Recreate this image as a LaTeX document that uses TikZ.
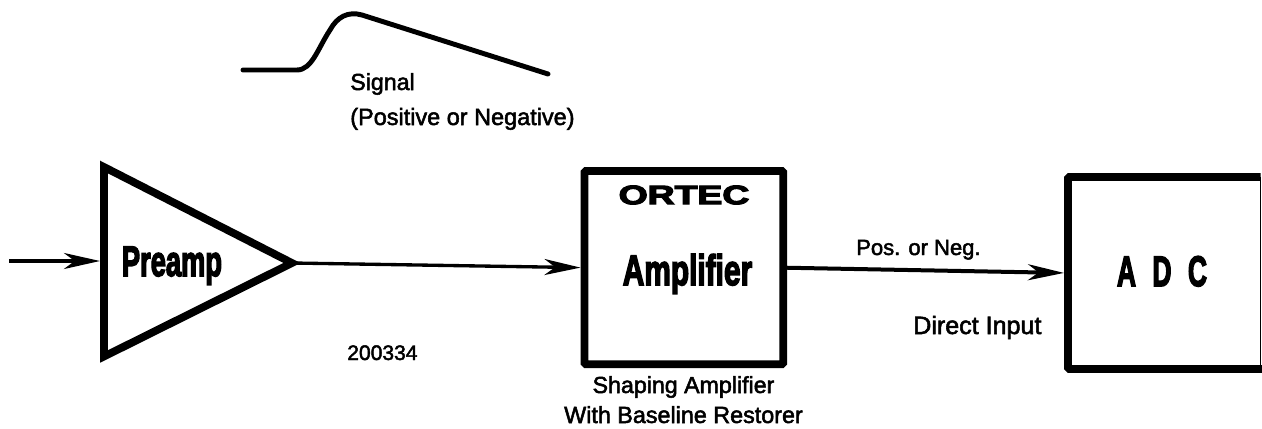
\documentclass[tikz,border=0pt]{standalone}
\usepackage{fontspec}
\setmainfont{Liberation Sans}
\newfontfamily\heavy{Liberation Sans Bold}[FakeBold=4]
\newcommand{\medfont}[1]{\font\medtmp="Liberation Sans:embolden=2.2" at #1\medtmp}
\usetikzlibrary{arrows.meta}
\tikzset{
  blockline/.style={line width=5.8pt,line join=miter},
  blockbox/.style={draw,line width=5.8pt,rounded corners=1pt,inner sep=0pt,outer sep=0pt,anchor=north west},
  opentext/.style={inner sep=0pt,outer sep=0pt,anchor=north west},
  sig/.style={line width=2.5pt,-{Stealth[length=27pt,width=12pt,inset=8pt]}},
  lab/.style={inner sep=0pt,anchor=base west,font=\medfont{#1}},
  labc/.style={inner sep=0pt,anchor=base,font=\medfont{#1}},
  big/.style={inner sep=0pt,anchor=base,font=\heavy\fontsize{32pt}{32pt}\selectfont},
  wave/.style={line width=3.7pt,line cap=round,line join=round}
}
\begin{document}
\begin{tikzpicture}[x=0.75pt,y=-0.75pt]
\useasboundingbox (0,0) rectangle (1262,428);
% signal shape
\draw[wave] (243,70) -- (297,70) .. controls (312,70) and (318,48) .. (330,30)
  .. controls (337,17) and (348,11) .. (362,15) -- (548,74);
\node[lab=17.4pt] (signal) at (350,90) {Signal};
\node[lab=17.6pt] (posneg) at (350,125) {(Positive or Negative)};
% preamp triangle
\coordinate (triT) at (104,167);
\coordinate (triB) at (104,356.5);
\coordinate (triC) at (104,261);
\coordinate (tip) at (292,263);
\coordinate (in) at (9,261);
\draw[blockline] (triT) -- (tip) -- (triB) -- cycle;
\node[big] (preamp) at (172,276) {\scalebox{0.64}[1]{Preamp}};
\node[lab=15.8pt] (num) at (347,360) {200334};
% amplifier
\node[blockbox,minimum width=149pt,minimum height=145pt] (amp) at (584.5,171) {};
\node[big] (amplifier) at (687.5,285) {\scalebox{0.70}[1]{Amplifier}};
\node[inner sep=0pt,font=\heavy\fontsize{20pt}{20pt}\selectfont] (ortec) at (684,195) {\scalebox{1.4}[1]{ORTEC}};
\node[labc=17.4pt] (shaping) at (683.5,393) {Shaping Amplifier};
\node[labc=17.5pt] (baseline) at (683.5,423) {With Baseline Restorer};
% ADC
\node[opentext,minimum width=144.4pt,minimum height=144pt] (adc) at (1068,177) {};
\draw[blockline,rounded corners=1pt,shorten >=-1.5pt] (adc.north east) -- (adc.north west) -- (adc.south west) -- (adc.south east);
\draw[line width=1.1pt] (adc.north east) -- (adc.south east);
\node[big] (adclabel) at (1162,286) {\scalebox{0.62}[1]{A\hspace{0.62em}D\hspace{0.62em}C}};
% connectors
\draw[sig,shorten >=3pt] (in) -- (triC);
\draw[sig,shorten >=3pt] (tip) -- (amp.west);
\draw[sig,line width=3pt,shorten >=3pt] (amp.east) -- (adc.west);
\node[lab=16.5pt] (pos) at (856,255) {Pos. or Neg.};
\node[lab=18.8pt] (direct) at (913,334) {Direct Input};
\end{tikzpicture}
\end{document}
